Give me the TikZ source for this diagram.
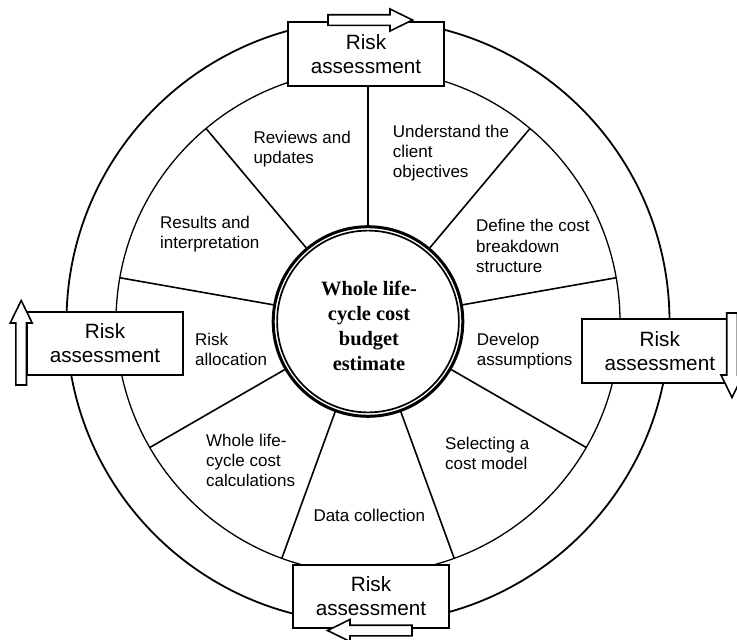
\documentclass[tikz,border=0pt]{standalone}
\usepackage{fontspec}
\setmainfont{Liberation Sans}
\newfontfamily\hubfont{Liberation Serif}
% left-aligned lines whose first baseline is the node's base
\newcommand{\seglines}[1]{\begin{tabular}[t]{@{}l@{}}#1\end{tabular}}
\begin{document}
\begin{tikzpicture}[x=1pt,y=-1pt,
  ring/.style={circle, draw, inner sep=0pt, outer sep=0pt},
  spoke/.style={line width=1.6pt},
  riskbox/.style={draw, fill=white, line width=1.8pt, minimum width=156pt,
    minimum height=63.5pt, inner sep=0pt, align=center,
    font=\fontsize{20.7}{24}\selectfont},
  stage/.style={anchor=base west, inner sep=0pt,
    font=\fontsize{17}{20.3}\selectfont},
  blockarrow/.pic={\draw[line width=1.6pt, fill=white, line join=miter]
    (0,-5.3) -- (62,-5.3) -- (62,-11) -- (84.5,0) -- (62,11) -- (62,5.3)
    -- (0,5.3) -- cycle;}
]
\useasboundingbox (0,0) rectangle (737,640);

% outer and inner rings of the wheel
\node[ring, line width=1.8pt, minimum size=603pt] (wheel) at (368,321.5) {};
\node[ring, line width=1.3pt, minimum size=504pt] (rim) at (368,321.5) {};

% hub with its double outline
\node[ring, line width=3pt, minimum size=189.6pt, outer sep=1.5pt] (hub) at (368,321.5) {};
\draw[line width=1.7pt] (hub.center) circle[radius=90.9];

% nine spokes, one every 40 degrees
\foreach \a in {90,50,10,-30,-70,-110,-150,170,130}
  \draw[spoke] (hub.\a) -- (rim.\a);

\node[font=\hubfont\bfseries\fontsize{20.4}{25}\selectfont, align=center]
  (hubtext) at (369,325.5) {Whole life-\\cycle cost\\budget\\estimate};

% stage labels
\node[stage] (s1) at (392.7,137.3) {\seglines{Understand the\\client\\objectives}};
\node[stage] (s2) at (476,231.7) {\seglines{Define the cost\\breakdown\\structure}};
\node[stage] (s3) at (476.7,345) {\seglines{Develop\\assumptions}};
\node[stage] (s4) at (445,449.3) {\seglines{Selecting a\\cost model}};
\node[stage] (s5) at (313.3,521.7) {\seglines{Data collection}};
\node[stage] (s6) at (206,446) {\seglines{Whole life-\\cycle cost\\calculations}};
\node[stage] (s7) at (195,345) {\seglines{Risk\\allocation}};
\node[stage] (s8) at (160,228.3) {\seglines{Results and\\interpretation}};
\node[stage] (s9) at (253.3,143.3) {\seglines{Reviews and\\updates}};

% risk assessment boxes on the rim
\node[riskbox] (rtop) at (366,54) {Risk\\assessment};
\node[riskbox] (rright) at (659.8,351) {Risk\\assessment};
\node[riskbox] (rbottom) at (371,596.5) {Risk\\assessment};
\node[riskbox] (rleft) at (105,343.5) {Risk\\assessment};

% clockwise block arrows
\pic (atop) at (328,20) {blockarrow};
\pic[rotate=-90] (aright) at (732,313) {blockarrow};
\pic[rotate=180] (abottom) at (412,630.5) {blockarrow};
\pic[rotate=90] (aleft) at (21.2,385) {blockarrow};
\end{tikzpicture}
\end{document}
